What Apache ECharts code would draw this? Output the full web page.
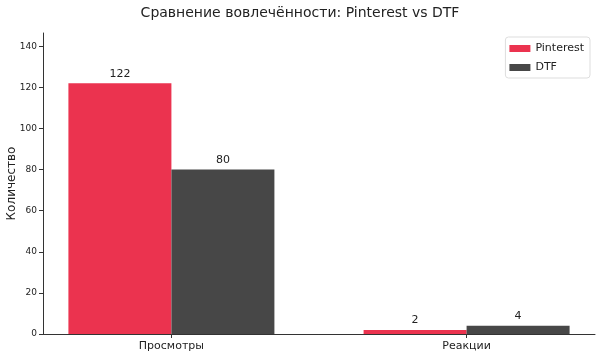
<!DOCTYPE html>
<html><head><meta charset="utf-8">
<script src="https://cdn.jsdelivr.net/npm/echarts@6/dist/echarts.min.js"></script>
<style>html,body{margin:0;padding:0;background:#fff}#c{width:600px;height:357px}</style>
</head><body><div id="c"></div>
<script>
const categories = ['Просмотры', 'Реакции'];
const seriesNames = ['Pinterest', 'DTF'];
const pinterestValues = [122, 2];
const dtfValues = [80, 4];
const yTicks = [0, 20, 40, 60, 80, 100, 120, 140];
const colors = ['#EB334F', '#474747'];

const font = 'DejaVu Sans';
const chart = echarts.init(document.getElementById('c'));
const mk = (vals) => vals.map((v, i) => [i, v]);
chart.setOption({
  animation: false,
  textStyle: { fontFamily: font },
  title: { text: 'Сравнение вовлечённости: Pinterest vs DTF', left: 'center', top: 1,
    textStyle: { fontFamily: font, fontSize: 14, fontWeight: 'normal', color: '#222' } },
  legend: {
    right: 10, top: 37, orient: 'vertical', itemWidth: 21, itemHeight: 7, itemGap: 8, icon: 'rect',
    borderColor: '#ddd', borderWidth: 1, borderRadius: 3, padding: [6, 6, 5, 4],
    textStyle: { fontFamily: font, fontSize: 11, color: '#222' },
    data: seriesNames
  },
  grid: { left: 43, right: 5, top: 33, bottom: 23, containLabel: false, outerBoundsMode: 'none' },
  xAxis: {
    type: 'value', min: -0.435, max: 1.435,
    splitLine: { show: false },
    axisLine: { show: true, onZero: false, lineStyle: { color: '#333' } },
    axisTick: { show: true, customValues: [0, 1], length: 4, lineStyle: { color: '#333' } },
    axisLabel: { customValues: [0, 1], formatter: v => categories[Math.round(v)], fontSize: 11, color: '#222', margin: 7 }
  },
  yAxis: {
    type: 'value', min: 0, max: 146.4, interval: 20,
    name: 'Количество', nameLocation: 'middle', nameGap: 25, nameMoveOverlap: false,
    nameTextStyle: { fontFamily: font, fontSize: 12, color: '#222' },
    splitLine: { show: false },
    axisLine: { show: true, onZero: false, lineStyle: { color: '#333' } },
    axisTick: { show: true, length: 4, lineStyle: { color: '#333' } },
    axisLabel: { fontSize: 9, color: '#222', margin: 6, showMaxLabel: false,
      formatter: v => (yTicks.includes(v) ? String(v) : '') }
  },
  series: [
    { name: seriesNames[0], type: 'bar', data: mk(pinterestValues), barWidth: 103, barGap: '0%',
      itemStyle: { color: colors[0] },
      label: { show: true, position: 'top', distance: 4, fontSize: 11, color: '#222', formatter: p => p.value[1] } },
    { name: seriesNames[1], type: 'bar', data: mk(dtfValues), barWidth: 103, barGap: '0%',
      itemStyle: { color: colors[1] },
      label: { show: true, position: 'top', distance: 4, fontSize: 11, color: '#222', formatter: p => p.value[1] } }
  ]
});
</script></body></html>
